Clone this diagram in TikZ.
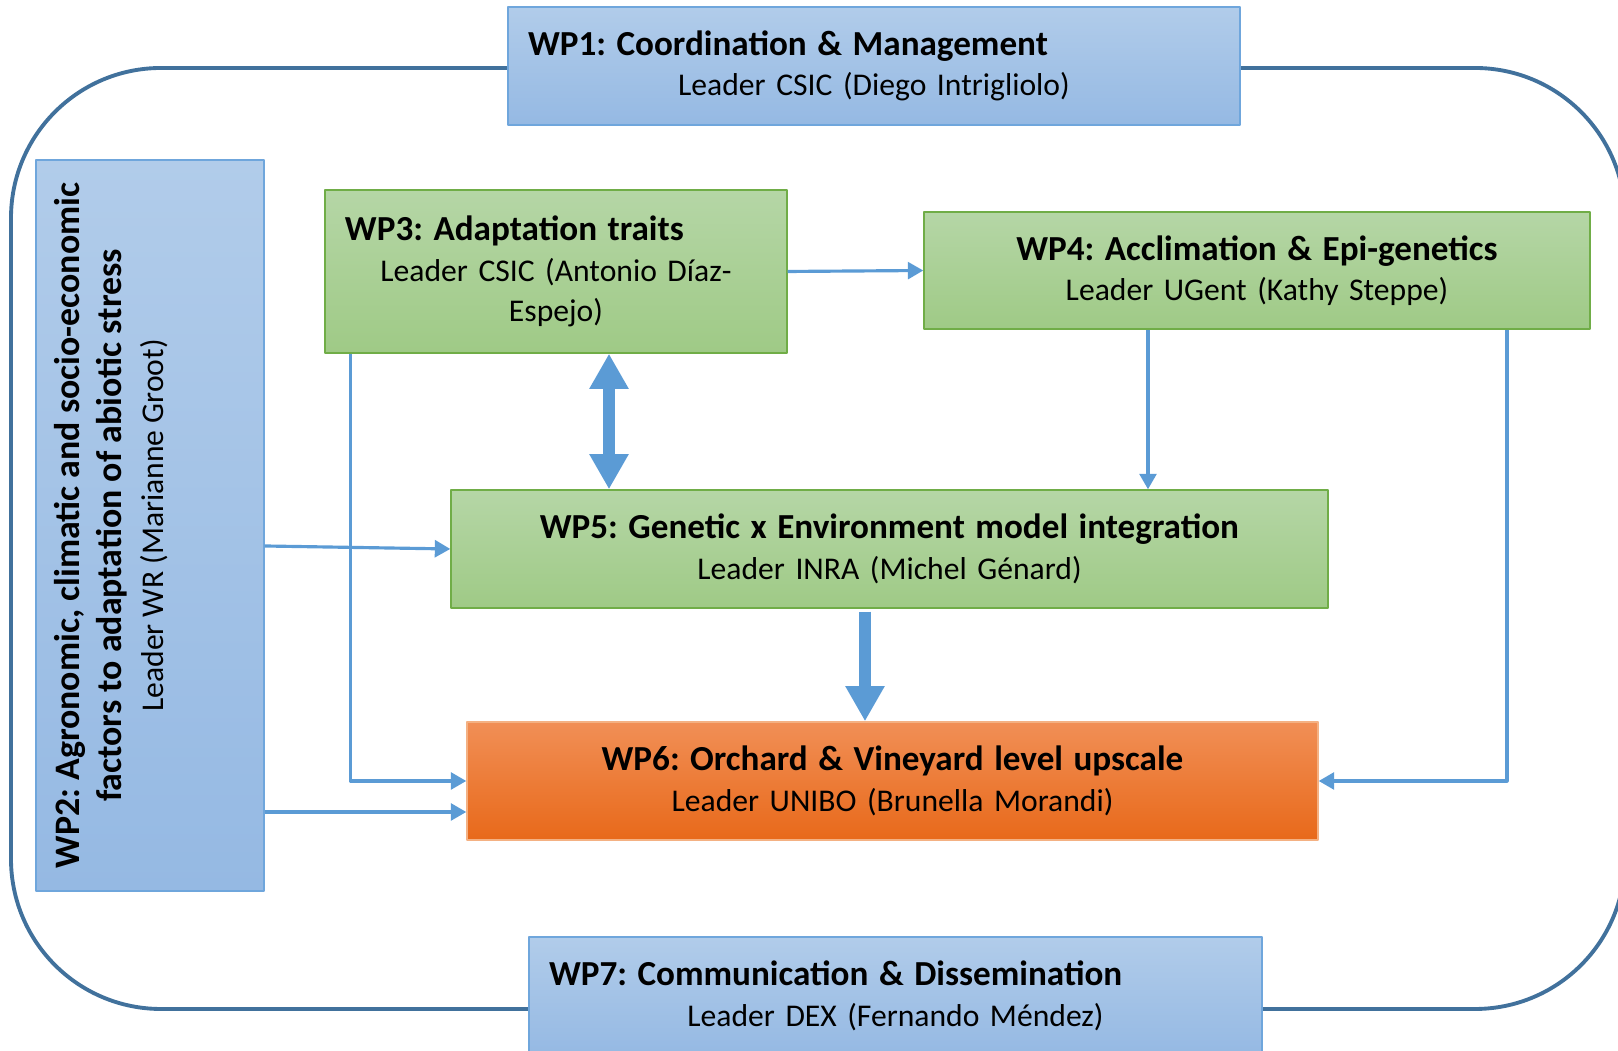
\documentclass[tikz,border=0pt]{standalone}
\usepackage{fontspec}
\setmainfont{Carlito}
\frenchspacing
\usetikzlibrary{arrows.meta}
\definecolor{frameblue}{HTML}{41719C}
\definecolor{arrowblue}{HTML}{5B9BD5}
\definecolor{blueline}{HTML}{6FA6DC}
\definecolor{bluetop}{HTML}{B1CCEA}
\definecolor{bluebot}{HTML}{95B9E3}
\definecolor{greenline}{HTML}{70AD47}
\definecolor{greentop}{HTML}{B5D6A6}
\definecolor{greenbot}{HTML}{9FCA86}
\definecolor{orangeline}{HTML}{F4B183}
\definecolor{orangetop}{HTML}{F18F56}
\definecolor{orangemid}{HTML}{F57F2D}
\definecolor{orangebot}{HTML}{E8691A}
\newcommand{\wptitle}[1]{{\fontsize{10}{11.5}\selectfont\bfseries #1}}
\begin{document}
\begin{tikzpicture}[line join=round,
	box/.style={line width=0.4pt,minimum height=1.18cm,inner xsep=0.2cm,align=center,font=\fontsize{9}{11.5}\selectfont},
	bluebox/.style={box,draw=blueline,top color=bluetop,bottom color=bluebot},
	greenbox/.style={box,draw=greenline,top color=greentop,bottom color=greenbot},
	orangebox/.style={box,draw=orangeline,top color=orangetop,middle color=orangemid,bottom color=orangebot},
	flow/.style={draw=arrowblue,line width=0.9pt,-{Triangle[length=4.4pt,width=4.8pt]}},
	bigflow/.style={draw=arrowblue,line width=3.4pt,-{Triangle[length=10pt,width=10.5pt]}}]
	\clip (0,0) rectangle (16.18,10.51);
	% khung ngoai
	\draw[frameblue,line width=1.1pt,rounded corners=1.5cm] (0.11,0.42) rectangle (16.25,9.83);
	% cac hop WP
	\node[bluebox,text width=6.92cm] (WP1) at (8.74,9.85)
	{\wptitle{WP1: Coordination \& Management}\hfill\null\\Leader CSIC (Diego Intrigliolo)};
	\node[bluebox,rotate=90,minimum width=7.31cm,minimum height=2.28cm,inner sep=0pt] (WP2) at (1.50,5.255) {};
	\node[rotate=90,align=center,font=\fontsize{9}{12}\selectfont] (WP2text) at ([xshift=-0.39cm]WP2.center)
	{{\fontsize{10.2}{12}\selectfont\bfseries WP2: Agronomic, climatic and socio-economic}\\{\fontsize{10.2}{12}\selectfont\bfseries factors to adaptation of abiotic stress}\\Leader WR (Marianne Groot)};
	\node[greenbox,text width=4.22cm,minimum height=1.63cm] (WP3) at (5.56,7.795)
	{\wptitle{WP3: Adaptation traits}\hfill\null\\Leader CSIC (Antonio Díaz-\\Espejo)};
	\node[greenbox,text width=6.26cm,minimum height=1.17cm] (WP4) at (12.57,7.805)
	{\wptitle{WP4: Acclimation \& Epi-genetics}\\Leader UGent (Kathy Steppe)};
	\node[greenbox,text width=8.37cm] (WP5) at (8.895,5.02)
	{\wptitle{WP5: Genetic x Environment model integration}\\Leader INRA (Michel Génard)};
	\node[orangebox,text width=8.11cm] (WP6) at (8.925,2.70)
	{\wptitle{WP6: Orchard \& Vineyard level upscale}\\Leader UNIBO (Brunella Morandi)};
	\node[bluebox,text width=6.93cm] (WP7) at (8.955,0.55)
	{\wptitle{WP7: Communication \& Dissemination}\hfill\null\\Leader DEX (Fernando Méndez)};
	% cac mui ten
	\draw[flow] (WP3.east) -- (WP4.west);
	\draw[flow] ([xshift=-1.09cm]WP4.south) -- ([xshift=-1.09cm]WP4.south |- WP5.north);
	\draw[flow] ([xshift=2.5cm]WP4.south) |- (WP6.east);
	\draw[flow] ([xshift=0.26cm]WP3.south west) |- (WP6.west);
	\draw[flow] ([yshift=-0.205cm]WP2.south) -- (WP5.west);
	\coordinate (w6in) at ([yshift=-0.31cm]WP6.west);
	\draw[flow] (WP2.south |- w6in) -- (w6in);
	\draw[bigflow,{Triangle[length=10pt,width=10.5pt]}-{Triangle[length=10pt,width=10.5pt]}] ([xshift=0.53cm]WP3.south) -- ([xshift=0.53cm]WP3.south |- WP5.north);
	\draw[bigflow] ([xshift=-0.245cm,yshift=-0.03cm]WP5.south) -- ([xshift=-0.245cm]WP5.south |- WP6.north);
\end{tikzpicture}
\end{document}
